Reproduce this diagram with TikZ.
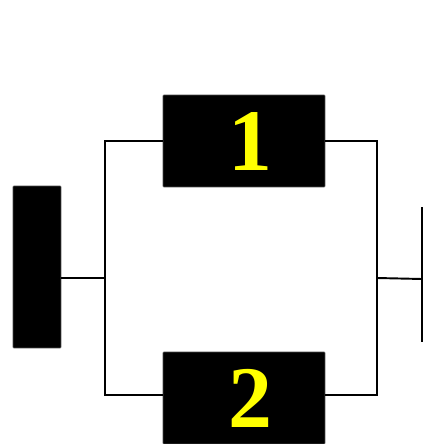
\documentclass[tikz,border=0pt]{standalone}
\usepackage{fontspec}
\setmainfont{Liberation Serif}
\usepackage{tikz}
\usetikzlibrary{positioning,calc}
\usepackage{xcolor}
\definecolor{digityellow}{RGB}{255,255,0}
\tikzset{
    unitbox/.style={fill=black, draw=black!70, thin, rounded corners=0.5pt,
        minimum width=3.24cm, minimum height=1.84cm, inner sep=0pt,
        text=digityellow, font=\fontsize{50}{50}\selectfont\bfseries},
    wire/.style={line width=1.1pt, black}
}

\begin{document}
\begin{tikzpicture}[x=0.02cm,y=-0.02cm]
    % Frame
    \useasboundingbox (0,0) rectangle (425,444);
    \clip (0,0) rectangle (425,444);
    \fill[white] (0,0) rectangle (425,444);
    % Source block
    \node[fill=black, draw=black!70, thin, rounded corners=0.5pt,
          minimum width=0.96cm, minimum height=3.24cm, inner sep=0pt] (src) at (37,267) {};
    % Parallel units
    \node[unitbox] (u1) at (244,141) {\hspace{0.24cm}1};
    \node[unitbox] (u2) at (244,398) {\hspace{0.24cm}2};
    % Junctions and load bar
    \coordinate (lj) at (105,278);
    \coordinate (rj) at (377,278);
    \coordinate (loadtop) at (422,207);
    \coordinate (loadbot) at (422,342);
    \coordinate (load) at (422,279);
    % Wires
    \draw[wire] (src.east |- lj) -- (lj);
    \draw[wire] (u1.west) -| (lj) |- ($(u2.west)+(0,-3)$);
    \draw[wire] (u1.east) -| (rj) |- ($(u2.east)+(0,-3)$);
    \draw[wire] (rj) -- (load);
    \draw[wire] (loadtop) -- (loadbot);
\end{tikzpicture}
\end{document}
